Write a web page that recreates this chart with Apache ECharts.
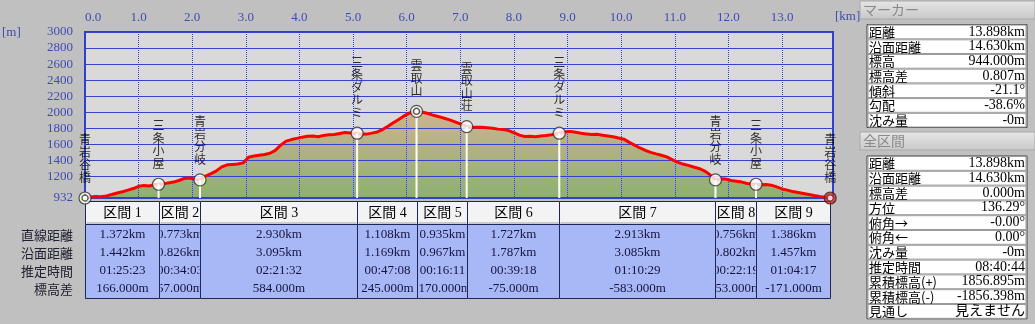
<!DOCTYPE html>
<html><head><meta charset="utf-8">
<script src="https://cdn.jsdelivr.net/npm/echarts@6/dist/echarts.min.js"></script>
<style>html,body{margin:0;padding:0;background:#c0c0c0;}#c{width:1035px;height:324px;}</style>
</head><body><div id="c"></div>
<script>
// ---------- data ----------
const distKm = [0,0.1,0.2,0.3,0.4,0.5,0.6,0.7,0.8,0.9,1.0,1.1,1.2,1.3,1.372,1.45,1.55,1.65,1.75,1.85,1.95,2.05,2.145,
  2.25,2.35,2.45,2.55,2.65,2.75,2.85,2.95,3.05,3.15,3.25,3.35,3.45,3.55,3.65,3.75,3.85,3.95,4.05,4.15,4.25,4.35,4.45,4.55,4.65,4.75,4.85,4.95,5.075,
  5.15,5.25,5.35,5.45,5.55,5.65,5.75,5.85,5.95,6.05,6.183,6.3,6.4,6.5,6.6,6.7,6.8,6.9,7.0,7.118,
  7.2,7.3,7.4,7.5,7.6,7.7,7.8,7.9,8.0,8.1,8.2,8.3,8.4,8.5,8.6,8.7,8.845,
  8.95,9.05,9.15,9.25,9.35,9.45,9.55,9.65,9.75,9.85,9.95,10.05,10.15,10.25,10.35,10.45,10.55,10.65,10.75,10.85,10.95,11.05,11.15,11.25,11.35,11.45,11.55,11.65,11.758,
  11.85,11.95,12.05,12.15,12.25,12.35,12.45,12.514,12.6,12.7,12.8,12.9,13.0,13.1,13.2,13.3,13.4,13.5,13.6,13.7,13.8,13.898];
const elevM = [932,945,950,948,958,975,995,1010,1030,1050,1078,1088,1082,1100,1103,1105,1120,1130,1150,1175,1180,1168,1157,
  1205,1235,1270,1320,1345,1350,1355,1370,1440,1455,1465,1475,1490,1525,1590,1640,1660,1675,1690,1700,1705,1695,1712,1720,1722,1735,1748,1742,1739,
  1725,1728,1740,1755,1785,1825,1870,1910,1955,1990,2012,2000,1985,1962,1945,1925,1905,1880,1855,1822,
  1818,1814,1812,1808,1800,1790,1785,1772,1745,1715,1698,1700,1696,1705,1712,1720,1739,
  1755,1762,1750,1738,1730,1722,1725,1715,1705,1695,1680,1665,1625,1590,1555,1525,1500,1482,1465,1445,1410,1380,1355,1338,1318,1300,1270,1225,1157,
  1172,1168,1150,1140,1130,1112,1105,1103,1098,1100,1092,1070,1045,1030,1012,1000,988,975,962,950,940,932];

const yTicks = [932,1200,1400,1600,1800,2000,2200,2400,2600,2800,3000];

const wpNames = ['青岩谷橋','三条小屋','青岩分岐','三条ダルミ','雲取山','雲取山荘','三条ダルミ','青岩分岐','三条小屋','青岩谷橋'];
const wpKm    = [0,1.372,2.145,5.075,6.183,7.118,8.845,11.758,12.514,13.898];
const wpElev  = [932,1103,1157,1739,2012,1822,1739,1157,1103,932];
const wpKind  = ['double','plain','plain','plain','double','plain','plain','plain','plain','end'];

const secNames    = ['区間 1','区間 2','区間 3','区間 4','区間 5','区間 6','区間 7','区間 8','区間 9'];
const secStraight = ['1.372km','0.773km','2.930km','1.108km','0.935km','1.727km','2.913km','0.756km','1.386km'];
const secSurface  = ['1.442km','0.826km','3.095km','1.169km','0.967km','1.787km','3.085km','0.802km','1.457km'];
const secTime     = ['01:25:23','00:34:03','02:21:32','00:47:08','00:16:11','00:39:18','01:10:29','00:22:19','01:04:17'];
const secDiff     = ['166.000m','57.000m','584.000m','245.000m','-170.000m','-75.000m','-583.000m','-53.000m','-171.000m'];
const rowLabels   = ['直線距離','沿面距離','推定時間','標高差'];

const markerTitle  = 'マーカー';
const markerLabels = ['距離','沿面距離','標高','標高差','傾斜','勾配','沈み量'];
const markerValues = ['13.898km','14.630km','944.000m','0.807m','-21.1°','-38.6%','-0m'];
const totalTitle   = '全区間';
const totalLabels  = ['距離','沿面距離','標高差','方位','俯角→','俯角←','沈み量','推定時間','累積標高(+)','累積標高(-)','見通し'];
const totalValues  = ['13.898km','14.630km','0.000m','136.29°','-0.00°','0.00°','-0m','08:40:44','1856.895m','-1856.398m','見えません'];

// ---------- chart ----------
const FONT = '"Liberation Serif","Noto Sans CJK JP",serif';
const FONT_JP = '"Noto Sans CJK JP",sans-serif';
const BLUE = '#3344cc';
const LBL = '#3f4cb4';
const G = {l:85, t:32, w:748, h:166};

const profile = distKm.map((d,i)=>[d, elevM[i]]);

const graphics = [];
graphics.push({type:'rect', z:-10, silent:true, shape:{x:G.l,y:G.t,width:G.w,height:G.h}, style:{fill:'#d9d9d9'}});
graphics.push({type:'text', x:2, y:33, style:{text:'[m]', font:'13px '+FONT, fill:LBL, verticalAlign:'middle'}});
graphics.push({type:'text', x:835, y:17, style:{text:'[km]', font:'13px '+FONT, fill:LBL, verticalAlign:'middle'}});
const rowY = [235,253,271,289];
rowLabels.forEach((t,i)=>graphics.push({type:'text', x:73, y:rowY[i], style:{text:t, font:'13px '+FONT_JP, fill:'#202030', align:'right', verticalAlign:'middle'}}));

function panel(title, labels, values, top, boxTop, rowH){
  graphics.push({type:'rect', shape:{x:860,y:top,width:175,height:18},
    style:{fill:{type:'linear',x:0,y:0,x2:0,y2:1,colorStops:[{offset:0,color:'#e6e6e6'},{offset:1,color:'#c8c8c8'}]}, stroke:'#a8a8a8', lineWidth:1}});
  graphics.push({type:'text', x:863, y:top+9, style:{text:title, font:'14px '+FONT_JP, fill:'#8a8a8a', verticalAlign:'middle'}});
  graphics.push({type:'rect', shape:{x:867,y:boxTop,width:160,height:rowH*labels.length}, style:{fill:'#fff', stroke:'#404040', lineWidth:1}});
  labels.forEach((t,i)=>{
    const y = boxTop + rowH*i;
    graphics.push({type:'rect', shape:{x:868,y:y+0.5,width:158,height:rowH-1}, style:{fill:'#fff', stroke:'#9a9a9a', lineWidth:1}});
    graphics.push({type:'text', x:869, y:y+rowH/2, style:{text:t, font:'13px '+FONT_JP, fill:'#000', verticalAlign:'middle'}});
    graphics.push({type:'text', x:1025, y:y+rowH/2, style:{text:values[i], font:'14px '+FONT, fill:'#000', align:'right', verticalAlign:'middle'}});
  });
}
panel(markerTitle, markerLabels, markerValues, 1, 24.6, 14.7);
panel(totalTitle, totalLabels, totalValues, 132, 156, 14.8);

const chart = echarts.init(document.getElementById('c'));
chart.setOption({
  backgroundColor:'#c0c0c0',
  animation:false,
  grid:{left:G.l, top:G.t, width:G.w, height:G.h, show:true, backgroundColor:'transparent', borderColor:'#2f3fc8', borderWidth:2},
  xAxis:{type:'value', position:'top', min:0, max:13.95, interval:1,
    axisLine:{show:false}, axisTick:{show:false},
    axisLabel:{color:LBL, fontFamily:FONT, fontSize:13, margin:8, formatter:v=>v.toFixed(1), showMaxLabel:false, alignMinLabel:'left'},
    splitLine:{show:true, lineStyle:{color:BLUE, type:'dotted', width:1}}},
  yAxis:{type:'value', min:932, max:3000,
    axisLine:{show:false}, axisTick:{show:false, customValues:yTicks},
    axisLabel:{customValues:yTicks, color:LBL, fontFamily:FONT, fontSize:13, margin:12, formatter:v=>String(v)},
    splitLine:{show:true, lineStyle:{color:BLUE, width:1}}},
  graphic:{elements:graphics},
  series:[
    {type:'line', z:-5, silent:true, data:profile, symbol:'none', lineStyle:{width:0, opacity:0},
     areaStyle:{opacity:1, color:{type:'linear',x:0,y:0,x2:0,y2:1,colorStops:[{offset:0,color:'#ccb490'},{offset:0.45,color:'#b0b184'},{offset:1,color:'#8cb172'}]}}},
    {type:'line', z:3, silent:true, data:profile, symbol:'none', lineStyle:{color:'#ff0000', width:3}},
    {type:'custom', z:4, silent:true, data:wpKm.map((k,i)=>[k,wpElev[i]]),
     renderItem:(p,api)=>{
       const a = api.coord([api.value(0), api.value(1)]);
       const b = api.coord([api.value(0), 932]);
       return {type:'line', shape:{x1:a[0],y1:a[1],x2:b[0],y2:b[1]}, style:{stroke:'#ffffff', lineWidth:2}};
     }},
    {type:'scatter', z:5, silent:true,
     data:wpKm.map((k,i)=>({value:[k,wpElev[i]], name:wpNames[i],
        itemStyle: wpKind[i]==='end' ? {color:'#cc2a2a', borderColor:'#4a1a1a', borderWidth:1.2} : {color:'#ffffff', borderColor:'#303030', borderWidth:1.2}})),
     symbol:'circle', symbolSize:12,
     label:{show:true, position:'top', distance:8, formatter:p=>p.name.split('').join('\n'),
       fontFamily:FONT_JP, fontSize:12, lineHeight:12.5, color:'#000'}},
    {type:'scatter', z:6, silent:true,
     data:wpKm.map((k,i)=>[k,wpElev[i],wpKind[i]]).filter(d=>d[2]!=='plain').map(d=>({value:[d[0],d[1]],
        itemStyle: d[2]==='end' ? {color:'#ffffff', borderColor:'#4a1a1a', borderWidth:1} : {color:'#ffffff', borderColor:'#303030', borderWidth:1.4}})),
     symbol:'circle', symbolSize:6},
    {type:'custom', z:5, silent:true, clip:false,
     data:secNames.map((n,i)=>[wpKm[i], wpKm[i+1], i]),
     encode:{x:[0,1]},
     renderItem:(p,api)=>{
       const i = api.value(2);
       const x0 = Math.round(api.coord([api.value(0),932])[0]) + 0.5;
       const x1 = Math.round(api.coord([api.value(1),932])[0]) + 0.5;
       const w = x1 - x0, cx = (x0+x1)/2;
       const vals = [secStraight[i], secSurface[i], secTime[i], secDiff[i]];
       const texts = [{type:'text', style:{text:secNames[i], x:cx, y:213, align:'center', verticalAlign:'middle', font:'14px '+FONT, fill:'#000'}}];
       vals.forEach((v,r)=>texts.push({type:'text', style:{text:v, x:cx, y:rowY[r], align:'center', verticalAlign:'middle', font:'13px '+FONT, fill:'#141440'}}));
       return {type:'group', children:[
         {type:'rect', shape:{x:x0,y:201.5,width:w,height:23}, style:{fill:'#f3f3f3', stroke:'#1e2858', lineWidth:1}},
         {type:'line', shape:{x1:x0+1,y1:223,x2:x1-1,y2:223}, style:{stroke:'#a0a0a0', lineWidth:1}},
         {type:'rect', shape:{x:x0,y:224.5,width:w,height:74}, style:{fill:'#a8b8f6', stroke:'#1e2858', lineWidth:1}},
         {type:'group', clipPath:{type:'rect', shape:{x:x0+1, y:201, width:w-2, height:98}}, children:texts}
       ]};
     }}
  ]
});
</script></body></html>
